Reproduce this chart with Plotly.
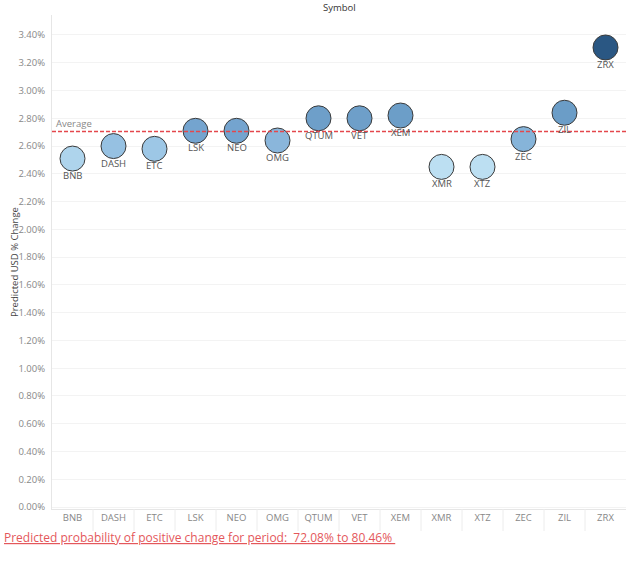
import plotly.graph_objects as go
import numpy as np

symbols = ["BNB", "DASH", "ETC", "LSK", "NEO", "OMG", "QTUM", "VET", "XEM", "XMR", "XTZ", "ZEC", "ZIL", "ZRX"]
pct_change = [2.51, 2.60, 2.58, 2.71, 2.71, 2.64, 2.80, 2.80, 2.82, 2.45, 2.45, 2.65, 2.84, 3.31]
y_ticks = [0.0, 0.2, 0.4, 0.6, 0.8, 1.0, 1.2, 1.4, 1.6, 1.8, 2.0, 2.2, 2.4, 2.6, 2.8, 3.0, 3.2, 3.4]
y_tick_labels = [f"{v:.2f}%" for v in y_ticks]
footer = "Predicted probability of positive change for period:  72.08% to 80.46% "

avg = float(np.mean(pct_change))

W, H = 640, 570
L, R, T, B = 52, 14, 15, 61
pw, ph = W - L - R, H - T - B

colorscale = [
    [0.0, "#bcdff2"],
    [0.15, "#9dc7e6"],
    [0.3, "#74a4cf"],
    [0.45, "#6b9dc7"],
    [1.0, "#2a5783"],
]

fig = go.Figure()
fig.add_trace(go.Scatter(
    x=symbols,
    y=pct_change,
    mode="markers",
    marker=dict(
        size=25,
        color=pct_change,
        colorscale=colorscale,
        cmin=min(pct_change),
        cmax=max(pct_change),
        line=dict(color="#3a3a3a", width=1),
        opacity=1,
    ),
    hoverinfo="x+y",
    showlegend=False,
    cliponaxis=False,
))

shapes = [
    dict(type="line", xref="paper", yref="y", x0=0, x1=1, y0=avg, y1=avg,
         line=dict(color="#e4474c", width=1.5, dash="4px,2px"), layer="above"),
]
# faint header dividers under the x axis
for i in range(len(symbols) - 1):
    shapes.append(dict(type="line", xref="x", yref="paper", x0=i + 0.5, x1=i + 0.5,
                       y0=0, y1=-22 / ph, line=dict(color="#ececec", width=1)))

annotations = [
    dict(text=s, x=s, y=v, xref="x", yref="y", showarrow=False, yshift=-17,
         yanchor="middle", font=dict(size=9.5, color="#555555"))
    for s, v in zip(symbols, pct_change)
]
annotations += [
    dict(text="Symbol", xref="paper", yref="paper", x=0.5, y=1 + (T - 8) / ph,
         showarrow=False, yanchor="middle", font=dict(size=9.5, color="#333333")),
    dict(text="Predicted USD % Change", xref="paper", yref="paper",
         x=-(L - 14) / pw, y=0.5, textangle=-90, showarrow=False,
         xanchor="center", yanchor="middle", font=dict(size=9.5, color="#444444")),
    dict(text="Average", xref="paper", yref="y", x=2 / pw, y=avg, xanchor="left",
         yanchor="bottom", showarrow=False, font=dict(size=9.5, color="#888888"),
         yshift=-1),
    dict(text="<u>" + footer + "</u>", xref="paper", yref="paper",
         x=-(L - 2) / pw, y=-(537 - (T + ph)) / ph, xanchor="left", yanchor="middle",
         showarrow=False, font=dict(size=12, color="#e4575b", family="Open Sans")),
]

fig.update_layout(
    width=W, height=H,
    margin=dict(l=L, r=R, t=T, b=B),
    paper_bgcolor="white",
    plot_bgcolor="white",
    font=dict(family="Open Sans", size=10, color="#888888"),
    shapes=shapes,
    annotations=annotations,
    xaxis=dict(
        type="category",
        range=[-0.5, len(symbols) - 0.5],
        showgrid=False,
        showline=True, linecolor="#e6e6e6", linewidth=1,
        ticks="", tickfont=dict(size=9.5, color="#888888"),
        fixedrange=True, zeroline=False,
    ),
    yaxis=dict(
        range=[-0.014, 3.544],
        tickvals=y_ticks,
        ticktext=y_tick_labels,
        tickfont=dict(size=9.5, color="#888888"),
        showgrid=True, gridcolor="#f3f3f3", gridwidth=1,
        showline=True, linecolor="#e6e6e6", linewidth=1,
        zeroline=False, ticks="", ticklabelstandoff=4,
    ),
)

fig.write_html("out.html", config={"displayModeBar": False},
               post_script="document.body.style.margin='0px';")
